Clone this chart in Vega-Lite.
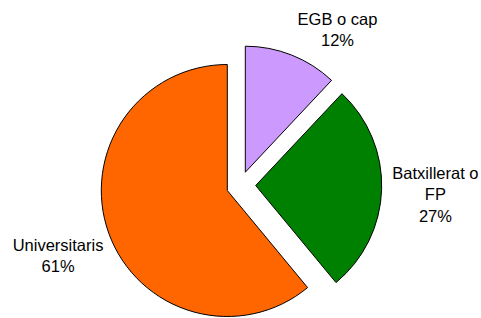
{
  "$schema": "https://vega.github.io/schema/vega-lite/v6.json",
  "width": 481,
  "height": 318,
  "autosize": {"type": "fit", "contains": "padding"},
  "background": "white",
  "view": {"stroke": null},
  "config": {"text": {"font": "Liberation Sans"}},
  "data": {"values": [
    {"category": "EGB o cap", "value": 12, "order": 1, "label": "EGB o cap\n12%"},
    {"category": "Batxillerat o FP", "value": 27, "order": 2, "label": "Batxillerat o\nFP\n27%"},
    {"category": "Universitaris", "value": 61, "order": 3, "label": "Universitaris\n61%"}
  ]},
  "transform": [{"stack": "value", "sort": [{"field": "order"}], "groupby": [], "as": ["start", "end"]}],
  "layer": [
    {
      "transform": [{"filter": "datum.order == 1"}],
      "mark": {"type": "arc", "outerRadius": 126, "stroke": "black", "strokeWidth": 1, "xOffset": 4.8, "yOffset": 13.7},
      "encoding": {
        "theta": {"field": "start", "type": "quantitative", "stack": null, "scale": {"domain": [0, 100]}},
        "theta2": {"field": "end"},
        "color": {"field": "category", "type": "nominal", "legend": null, "scale": {"domain": ["EGB o cap", "Batxillerat o FP", "Universitaris"], "range": ["#CC99FF", "#008000", "#FF6600"]}}
      }
    },
    {
      "transform": [{"filter": "datum.order == 2"}],
      "mark": {"type": "arc", "outerRadius": 126, "stroke": "black", "strokeWidth": 1, "xOffset": 15.2, "yOffset": 27},
      "encoding": {
        "theta": {"field": "start", "type": "quantitative", "stack": null, "scale": {"domain": [0, 100]}},
        "theta2": {"field": "end"},
        "color": {"field": "category", "type": "nominal", "legend": null}
      }
    },
    {
      "transform": [{"filter": "datum.order == 3"}],
      "mark": {"type": "arc", "outerRadius": 126, "stroke": "black", "strokeWidth": 1, "xOffset": -13.2, "yOffset": 32},
      "encoding": {
        "theta": {"field": "start", "type": "quantitative", "stack": null, "scale": {"domain": [0, 100]}},
        "theta2": {"field": "end"},
        "color": {"field": "category", "type": "nominal", "legend": null}
      }
    },
    {
      "mark": {"type": "text", "radius": 170, "yOffset": 27, "dx": 34.4, "dy": -7.8, "fontSize": 16.5, "lineHeight": 21.5, "align": "center", "baseline": "middle", "lineBreak": "\n", "fill": "black"},
      "encoding": {
        "theta": {"field": "value", "type": "quantitative", "stack": true, "scale": {"domain": [0, 100]}},
        "order": {"field": "order"},
        "text": {"condition": {"test": "datum.order == 1", "field": "label"}, "value": ""}
      }
    },
    {
      "mark": {"type": "text", "radius": 170, "yOffset": 27, "dx": 25, "dy": -16.9, "fontSize": 16.5, "lineHeight": 21.5, "align": "center", "baseline": "middle", "lineBreak": "\n", "fill": "black"},
      "encoding": {
        "theta": {"field": "value", "type": "quantitative", "stack": true, "scale": {"domain": [0, 100]}},
        "order": {"field": "order"},
        "text": {"condition": {"test": "datum.order == 2", "field": "label"}, "value": ""}
      }
    },
    {
      "mark": {"type": "text", "radius": 170, "yOffset": 27, "dx": -22.5, "dy": 2.6, "fontSize": 16.5, "lineHeight": 21.5, "align": "center", "baseline": "middle", "lineBreak": "\n", "fill": "black"},
      "encoding": {
        "theta": {"field": "value", "type": "quantitative", "stack": true, "scale": {"domain": [0, 100]}},
        "order": {"field": "order"},
        "text": {"condition": {"test": "datum.order == 3", "field": "label"}, "value": ""}
      }
    }
  ]
}
